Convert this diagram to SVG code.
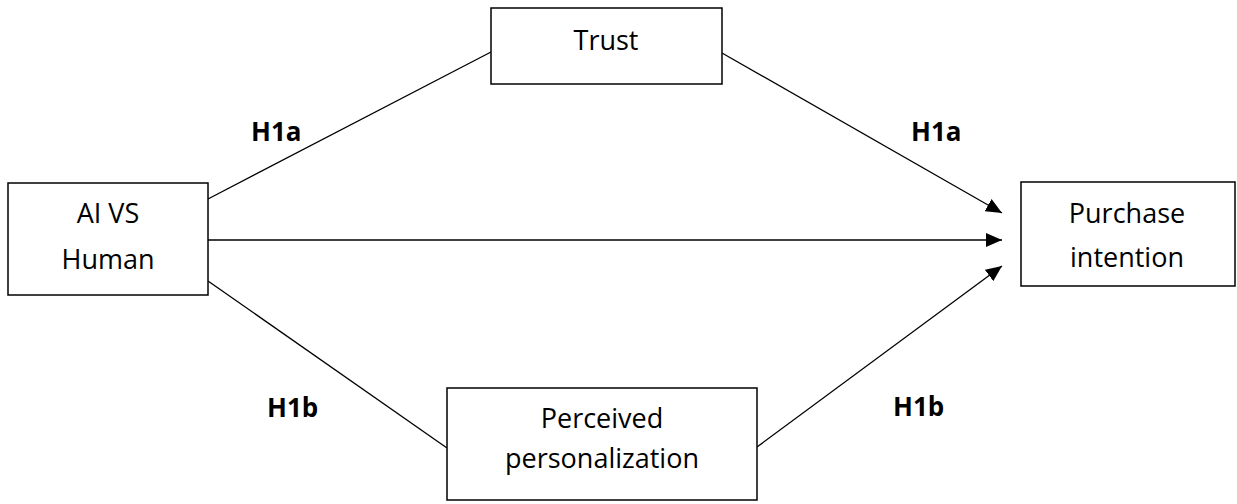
<svg xmlns="http://www.w3.org/2000/svg" width="1237" height="504" viewBox="0 0 1237 504">
<style>
.box{fill:#fff;stroke:#000;stroke-width:1.5}
.lbl{font-family:"Open Sans","Liberation Sans",Arial,sans-serif;font-size:27px;fill:#000;text-anchor:middle}
.h{font-family:"Open Sans","Liberation Sans",Arial,sans-serif;font-size:26px;font-weight:bold;fill:#000}
.c{stroke:#000;stroke-width:1.3;fill:none}
</style>
<defs>
<marker id="arr" markerUnits="userSpaceOnUse" markerWidth="16" markerHeight="14" refX="16" refY="7" orient="auto">
<path d="M0,0 L16,7 L0,14 Z" fill="#000"/>
</marker>
</defs>
<rect width="1237" height="504" fill="#fff"/>
<g id="connectors">
<line class="c" x1="208" y1="199" x2="491" y2="52"/>
<line class="c" x1="722" y1="53" x2="1002" y2="213" marker-end="url(#arr)"/>
<line class="c" x1="208" y1="240" x2="1002" y2="240" marker-end="url(#arr)"/>
<line class="c" x1="208" y1="281" x2="447" y2="448"/>
<line class="c" x1="757" y1="447" x2="1002" y2="266" marker-end="url(#arr)"/>
</g>
<g id="node-ai">
<rect class="box" x="8" y="183" width="200" height="112"/>
<text class="lbl" x="108" y="223">AI VS</text>
<text class="lbl" x="108" y="269">Human</text>
</g>
<g id="node-trust">
<rect class="box" x="491" y="8" width="231" height="76"/>
<text class="lbl" x="606" y="50">Trust</text>
</g>
<g id="node-purchase">
<rect class="box" x="1021" y="182" width="214" height="104"/>
<text class="lbl" x="1127" y="223">Purchase</text>
<text class="lbl" x="1127" y="267">intention</text>
</g>
<g id="node-perceived">
<rect class="box" x="447" y="388" width="310" height="112"/>
<text class="lbl" x="602" y="428">Perceived</text>
<text class="lbl" x="602" y="468">personalization</text>
</g>
<g id="labels">
<text class="h" x="251" y="141">H1a</text>
<text class="h" x="911" y="141">H1a</text>
<text class="h" x="267" y="417">H1b</text>
<text class="h" x="893" y="416">H1b</text>
</g>
</svg>
